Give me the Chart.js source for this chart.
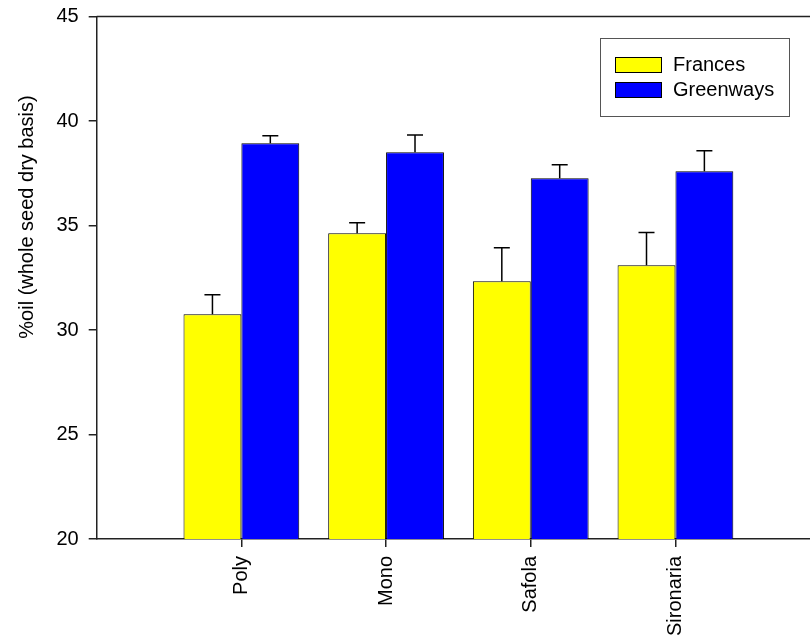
<!DOCTYPE html>
<html>
<head>
<meta charset="utf-8">
<script src="https://cdn.jsdelivr.net/npm/chart.js@4/dist/chart.umd.min.js"></script>
<style>
  html, body { margin: 0; padding: 0; background: #fff; }
  #wrap { width: 810px; height: 643px; }
</style>
</head>
<body>
<div id="wrap"><canvas id="c" width="810" height="643"></canvas></div>
<script>
// Oil content by cultivar and seed lot
const categories = ['Poly', 'Mono', 'Safola', 'Sironaria'];
const seriesNames = ['Frances', 'Greenways'];
const frances = [30.75, 34.63, 32.33, 33.10];
const francesErr = [0.94, 0.50, 1.60, 1.57];
const greenways = [38.93, 38.50, 37.26, 37.59];
const greenwaysErr = [0.37, 0.83, 0.65, 0.99];
const yTicks = [20, 25, 30, 35, 40, 45];
const yTitle = '%oil (whole seed dry basis)';

const FONT = "'Liberation Sans', Arial, sans-serif";
Chart.defaults.font.family = FONT;
Chart.defaults.font.size = 20;
Chart.defaults.color = '#000';

const toPoints = vals => vals.map((v, i) => ({ x: i + 1, y: v }));

// Upper error bars with caps
const errorBars = {
  id: 'errorBars',
  afterDatasetsDraw(chart) {
    const ctx = chart.ctx;
    const yScale = chart.scales.y;
    ctx.save();
    ctx.strokeStyle = '#000';
    ctx.lineWidth = 1.5;
    chart.data.datasets.forEach((ds, di) => {
      const meta = chart.getDatasetMeta(di);
      meta.data.forEach((bar, i) => {
        const top = yScale.getPixelForValue(ds.data[i].y + ds.errors[i]);
        ctx.beginPath();
        ctx.moveTo(bar.x, bar.y);
        ctx.lineTo(bar.x, top);
        ctx.moveTo(bar.x - 8, top);
        ctx.lineTo(bar.x + 8, top);
        ctx.stroke();
      });
    });
    ctx.restore();
  }
};

// Top frame line, rotated axis title and boxed legend
const decorations = {
  id: 'decorations',
  afterDraw(chart) {
    const ctx = chart.ctx;
    const a = chart.chartArea;
    ctx.save();
    ctx.strokeStyle = '#222';
    ctx.lineWidth = 1.5;
    ctx.beginPath();
    ctx.moveTo(a.left, a.top);
    ctx.lineTo(a.right, a.top);
    ctx.stroke();

    ctx.fillStyle = '#000';
    ctx.font = '20px ' + FONT;
    ctx.textAlign = 'center';
    ctx.textBaseline = 'middle';
    ctx.translate(27, 217);
    ctx.rotate(-Math.PI / 2);
    ctx.fillText(yTitle, 0, 0);
    ctx.restore();

    ctx.save();
    ctx.strokeStyle = '#555';
    ctx.lineWidth = 1;
    ctx.strokeRect(600.5, 38.5, 189, 78);
    ctx.font = '20px ' + FONT;
    ctx.textAlign = 'left';
    ctx.textBaseline = 'middle';
    chart.data.datasets.forEach((ds, i) => {
      const y = 57.5 + i * 25;
      ctx.fillStyle = ds.backgroundColor;
      ctx.fillRect(615.5, y, 46, 15);
      ctx.strokeStyle = '#000';
      ctx.strokeRect(615.5, y, 46, 15);
      ctx.fillStyle = '#000';
      ctx.fillText(ds.label, 673, y + 8);
    });
    ctx.restore();
  }
};

new Chart(document.getElementById('c'), {
  type: 'bar',
  data: {
    datasets: [
      { label: seriesNames[0], data: toPoints(frances), errors: francesErr,
        backgroundColor: '#FFFF00', borderColor: '#000', borderWidth: 1 },
      { label: seriesNames[1], data: toPoints(greenways), errors: greenwaysErr,
        backgroundColor: '#0000FF', borderColor: '#000', borderWidth: 1 }
    ]
  },
  options: {
    responsive: false,
    animation: false,
    devicePixelRatio: 1,
    layout: { padding: { top: 16.5, left: 0, right: 0, bottom: 0 } },
    datasets: { bar: { categoryPercentage: 0.8, barPercentage: 1.0 } },
    plugins: { legend: { display: false }, tooltip: { enabled: false } },
    scales: {
      x: {
        type: 'linear',
        offset: false,
        min: 0,
        max: 4.93,
        afterBuildTicks: s => { s.ticks = categories.map((c, i) => ({ value: i + 1 })); },
        afterFit: s => { s.height = 104; s.paddingLeft = 0; s.paddingRight = 0; },
        ticks: {
          autoSkip: false,
          minRotation: 90,
          maxRotation: 90,
          padding: 9,
          callback: v => categories[v - 1]
        },
        grid: { offset: false, drawOnChartArea: false, tickLength: 8, color: '#222', lineWidth: 1.5 },
        border: { color: '#222', width: 1.5 }
      },
      y: {
        min: 20,
        max: 45,
        afterBuildTicks: s => { s.ticks = yTicks.map(v => ({ value: v })); },
        afterFit: s => { s.width = 96.7; s.paddingTop = 0; s.paddingBottom = 0; },
        ticks: { padding: 10 },
        grid: { drawOnChartArea: false, tickLength: 8, color: '#222', lineWidth: 1.5 },
        border: { color: '#222', width: 1.5 }
      }
    }
  },
  plugins: [errorBars, decorations]
});
</script>
</body>
</html>
